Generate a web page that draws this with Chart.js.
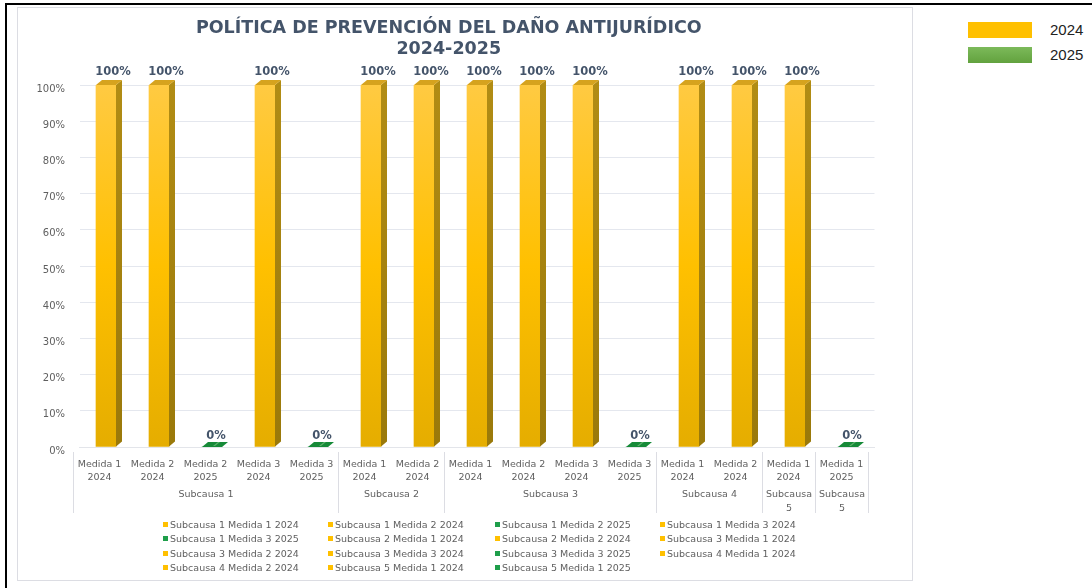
<!DOCTYPE html>
<html>
<head>
<meta charset="utf-8">
<script src="https://cdn.jsdelivr.net/npm/chart.js@4.4.0/dist/chart.umd.min.js"></script>
<style>
body{margin:0;background:#fff;width:1092px;height:588px;overflow:hidden;position:relative;font-family:"DejaVu Sans",Verdana,sans-serif;}
#frame{position:absolute;left:5px;top:3px;width:1085px;height:583px;border-left:2px solid #000;border-top:2px solid #000;border-right:1px solid #7f7f7f;border-bottom:1px solid #7f7f7f;}
#box{position:absolute;left:17px;top:7px;width:894px;height:572px;border:1px solid #dcdde3;}
#yearLegend{position:absolute;left:968px;top:22px;}
.yl{position:relative;height:25px;}
.yl span{position:absolute;left:0;top:0;width:64px;height:16px;}
.yl b{position:absolute;left:82px;top:-2px;font:15px "Liberation Sans",Arial,sans-serif;color:#222;font-weight:normal;line-height:20px;}
#legend{position:absolute;left:163px;top:518px;display:grid;grid-template-columns:165px 167px 165px 165px;grid-auto-rows:14.3px;font-size:9.5px;color:#5f5f5f;}
#legend div{white-space:nowrap;line-height:14.3px;}
#legend i{display:inline-block;width:5px;height:5px;margin-right:2px;vertical-align:1px;}
</style>
</head>
<body>
<div id="frame"></div>
<div id="box"><canvas id="chart"></canvas></div>
<div id="yearLegend"></div>
<div id="legend"></div>
<script>
// ======================================
// DATA
// ======================================

const medidas = [
    ["Medida 1","2024"], ["Medida 2","2024"], ["Medida 2","2025"], ["Medida 3","2024"], ["Medida 3","2025"],
    ["Medida 1","2024"], ["Medida 2","2024"],
    ["Medida 1","2024"], ["Medida 2","2024"], ["Medida 3","2024"], ["Medida 3","2025"],
    ["Medida 1","2024"], ["Medida 2","2024"],
    ["Medida 1","2024"],
    ["Medida 1","2025"]
];

const subcausas = ["Subcausa 1","Subcausa 2","Subcausa 3","Subcausa 4","Subcausa 5","Subcausa 5"];
const subcausaSize = [5,2,4,2,1,1];

const values = [100,100,0,100,0, 100,100, 100,100,100,0, 100,100, 100, 0];

const yearTicks = ["2024","2025"];

const chartTitle = ["POLÍTICA DE PREVENCIÓN DEL DAÑO ANTIJURÍDICO","2024-2025"];

// series names for the bottom legend
let seriesNames = [];
let pos = 0;
subcausas.forEach(function(s, g){
    for(let k=0;k<subcausaSize[g];k++){
        seriesNames.push(s+" "+medidas[pos][0]+" "+medidas[pos][1]);
        pos++;
    }
});

// ======================================
// LEGENDS (HTML)
// ======================================

let yl = "";
yearTicks.forEach(function(y){
    let bg = y=="2024" ? "#ffc000" : "linear-gradient(#7cba5a,#62a23e)";
    yl += '<div class="yl"><span style="background:'+bg+'"></span><b>'+y+'</b></div>';
});
document.getElementById("yearLegend").innerHTML = yl;

let lg = "";
seriesNames.forEach(function(name, i){
    lg += '<div><i style="background:'+(medidas[i][1]=="2024" ? "#ffc000" : "#1e9e4a")+'"></i>'+name+'</div>';
});
document.getElementById("legend").innerHTML = lg;

// ======================================
// 3D FACES + DATA LABELS
// ======================================

const DX = 6, DY = 5, LABEL_SHIFT = -6.5;

const faces = {
    id:"faces",
    afterDatasetsDraw(chart){
        const ctx = chart.ctx;
        const meta = chart.getDatasetMeta(0);
        ctx.save();
        meta.data.forEach(function(bar, i){
            const l = bar.x - bar.width/2, r = bar.x + bar.width/2;
            const top = bar.y, base = bar.base;
            if(values[i] > 0){
                // side
                let g = ctx.createLinearGradient(0, top, 0, base);
                g.addColorStop(0,"#b18c14");
                g.addColorStop(1,"#9a790a");
                ctx.fillStyle = g;
                ctx.beginPath();
                ctx.moveTo(r, top); ctx.lineTo(r+DX, top-DY); ctx.lineTo(r+DX, base-DY); ctx.lineTo(r, base);
                ctx.closePath(); ctx.fill();
                // top
                ctx.fillStyle = "#d6a31e";
                ctx.beginPath();
                ctx.moveTo(l, top); ctx.lineTo(l+DX, top-DY); ctx.lineTo(r+DX, top-DY); ctx.lineTo(r, top);
                ctx.closePath(); ctx.fill();
            } else {
                ctx.fillStyle = "#168a38";
                ctx.beginPath();
                ctx.moveTo(l, base); ctx.lineTo(l+DX, base-DY); ctx.lineTo(r+DX, base-DY); ctx.lineTo(r, base);
                ctx.closePath(); ctx.fill();
                ctx.fillStyle = "rgba(150,210,150,.55)";
                ctx.beginPath();
                ctx.moveTo(bar.x+1, base-1); ctx.lineTo(bar.x+DX, base-DY); ctx.lineTo(bar.x+DX+2, base-DY); ctx.lineTo(bar.x+3, base-1);
                ctx.closePath(); ctx.fill();
            }
            ctx.fillStyle = "#44546a";
            ctx.font = "bold 11.5px 'DejaVu Sans'";
            ctx.textAlign = "center";
            ctx.textBaseline = "middle";
            ctx.fillText(values[i]+"%", bar.x + (values[i] > 0 ? 7 : 4), top - (values[i] > 0 ? 13 : 11));
        });
        ctx.restore();
    }
};

// ======================================
// SUBCAUSA GROUP LABELS
// ======================================

const groups = {
    id:"groups",
    afterDraw(chart){
        const ctx = chart.ctx;
        const x = chart.scales.x;
        const half = x.width / medidas.length / 2;
        const y0 = x.top + 5, y1 = x.top + 66;
        ctx.save();
        ctx.strokeStyle = "#dcdde3";
        ctx.lineWidth = 1;
        ctx.fillStyle = "#5f5f5f";
        ctx.font = "9.5px 'DejaVu Sans'";
        ctx.textAlign = "center";
        ctx.textBaseline = "middle";
        let start = 0;
        const edge = function(i){ return Math.round(x.getPixelForValue(i) - half + LABEL_SHIFT) + .5; };
        ctx.beginPath(); ctx.moveTo(edge(0), y0); ctx.lineTo(edge(0), y1); ctx.stroke();
        subcausas.forEach(function(s, g){
            const a = edge(start), b = edge(start + subcausaSize[g]);
            ctx.beginPath(); ctx.moveTo(b, y0); ctx.lineTo(b, y1); ctx.stroke();
            const cx = (a + b) / 2;
            if(ctx.measureText(s).width > b - a - 4){
                const parts = s.split(" ");
                ctx.fillText(parts[0], cx, x.top + 48);
                ctx.fillText(parts[1], cx, x.top + 62);
            } else {
                ctx.fillText(s, cx, x.top + 48);
            }
            start += subcausaSize[g];
        });
        ctx.restore();
    }
};

// ======================================
// CHART
// ======================================

new Chart(document.getElementById("chart"),{

    type:"bar",

    data:{
        labels:medidas,
        datasets:[{
            label:"Avance",
            data:values,
            barThickness:20,
            backgroundColor:function(c){
                const area = c.chart.chartArea;
                if(!area){ return "#ffc000"; }
                if(medidas[c.dataIndex] && medidas[c.dataIndex][1]=="2025"){ return "#168a38"; }
                let g = c.chart.ctx.createLinearGradient(0, area.top, 0, area.bottom);
                g.addColorStop(0,"#ffca42");
                g.addColorStop(.5,"#ffc000");
                g.addColorStop(1,"#e5ad00");
                return g;
            },
            borderWidth:0
        }]
    },

    options:{
        responsive:true,
        maintainAspectRatio:false,
        animation:false,
        layout:{
            padding:{left:5,right:37.5,top:0,bottom:0}
        },
        plugins:{
            legend:{display:false},
            tooltip:{enabled:false},
            title:{
                display:true,
                text:chartTitle,
                color:"#44546a",
                font:{family:"DejaVu Sans",size:17.5,weight:"bold",lineHeight:1.2},
                padding:{top:10,bottom:25}
            }
        },
        scales:{
            x:{
                afterFit:function(s){ s.height = 133; },
                grid:{display:false},
                border:{display:true,color:"#e3e5ea"},
                ticks:{
                    autoSkip:false,
                    maxRotation:0,
                    padding:3,
                    labelOffset:LABEL_SHIFT,
                    color:"#5f5f5f",
                    font:{family:"DejaVu Sans",size:9.5,lineHeight:1.35}
                }
            },
            y:{
                min:0,
                max:100,
                afterFit:function(s){ s.width = 56.5; },
                border:{display:false},
                grid:{color:"#e4e7ee",drawTicks:false},
                ticks:{
                    stepSize:10,
                    padding:14.5,
                    labelOffset:4,
                    color:"#5f5f5f",
                    font:{family:"DejaVu Sans",size:10},
                    callback:function(v){ return v+"%"; }
                }
            }
        }
    },

    plugins:[faces, groups]

});
</script>
</body>
</html>
